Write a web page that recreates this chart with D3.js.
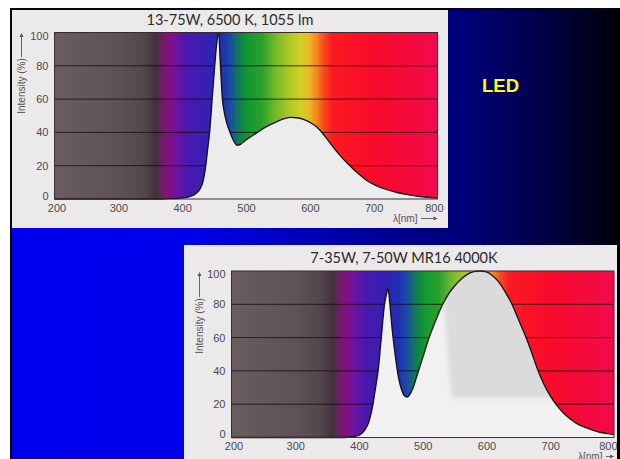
<!DOCTYPE html>
<html><head><meta charset="utf-8">
<script src="https://cdn.jsdelivr.net/npm/d3@7"></script>
<style>html,body{margin:0;padding:0;background:#fff;overflow:hidden}</style>
</head><body><svg id="c" width="620" height="459"></svg>
<script>
// ---------- data ----------
const wavelengthTicks = [200, 300, 400, 500, 600, 700, 800];
const intensityTicks = [0, 20, 40, 60, 80, 100];
const slideLabel = "LED";
const yAxisTitle = "Intensity (%)";
const xAxisTitle = "λ[nm]";

const chart1Title = "13-75W, 6500 K, 1055 lm";
const chart1Wavelength = [200, 360, 380, 395, 405, 415, 422, 428, 433, 437, 440, 443, 447, 451, 454, 457, 460, 463, 466, 470, 475, 480, 486, 492, 500, 510, 520, 530, 540, 550, 560, 570, 580, 590, 600, 610, 620, 630, 640, 650, 660, 670, 680, 690, 700, 720, 740, 760, 780, 800];
const chart1Intensity  = [0, 0, 0.2, 0.4, 0.8, 1.8, 3.5, 6, 11, 20, 30, 40, 60, 80, 93, 100, 80, 60, 52, 45.5, 40, 35.5, 32.3, 33, 35.5, 38, 40.5, 43, 45, 46.8, 48.2, 49, 48.8, 47.8, 46, 43.5, 39.5, 34.5, 29.5, 25, 21, 17.3, 14, 11, 8.8, 5.7, 3.6, 2.2, 1.2, 0.6];

const chart2Title = "7-35W, 7-50W MR16 4000K";
const chart2Wavelength = [200, 370, 385, 395, 403, 410, 416, 422, 426, 430, 435, 440, 443, 445, 447, 449, 452, 455, 458, 461, 465, 469, 473, 476, 480, 485, 490, 495, 500, 510, 520, 530, 540, 550, 560, 570, 580, 590, 600, 610, 620, 630, 640, 650, 660, 670, 680, 690, 700, 710, 720, 730, 740, 750, 760, 770, 780, 790, 800];
const chart2Intensity  = [0, 0, 0.3, 0.8, 2, 5, 10, 20, 30, 40, 60, 80, 86, 89.5, 86, 78, 65, 55, 46, 38, 31, 26.5, 24.5, 24.3, 26, 30, 36, 42, 48, 60, 70, 79, 86, 91, 95, 98, 99.6, 100, 99.5, 97, 93, 87, 80, 71, 62, 52, 41, 32, 25, 19.5, 15, 11.5, 8.8, 6.8, 5.3, 4, 3, 2.3, 1.8];

// ---------- styles ----------
const spectrumStops = [
  [200, "#6a5d61"], [300, "#5f5257"], [340, "#54474c"], [358, "#3f3339"],
  [368, "#6a1f62"], [378, "#86107e"], [392, "#6a14a0"], [410, "#4a18ae"],
  [440, "#3420b4"], [462, "#1e30b2"], [475, "#1c4aa8"], [485, "#127068"],
  [495, "#0e8a3e"], [505, "#139a30"], [525, "#2aa02c"], [545, "#72b82a"],
  [565, "#a8c622"], [585, "#d2cf26"], [598, "#ecba28"], [610, "#f68a1e"],
  [622, "#fa4a1e"], [635, "#fc1a22"], [700, "#f80a2a"], [800, "#f20a4c"]
];
const slideStops = [[0, "#0000f2"], [0.3, "#0000ea"], [0.5, "#0000b4"], [0.66, "#000088"], [0.74, "#00007a"], [0.86, "#00004e"], [1, "#000006"]];

const svg = d3.select("#c");
const defs = svg.append("defs");

svg.append("rect").attr("width", 620).attr("height", 459).attr("fill", "#ffffff");
const sg = defs.append("linearGradient").attr("id", "slideGrad").attr("x1", 0).attr("x2", 1).attr("y1", 0).attr("y2", 0);
slideStops.forEach(s => sg.append("stop").attr("offset", s[0]).attr("stop-color", s[1]));
svg.append("rect").attr("x", 10).attr("y", 8).attr("width", 610).attr("height", 451).attr("fill", "#06060c");
svg.append("rect").attr("x", 12).attr("y", 10).attr("width", 608).attr("height", 449).attr("fill", "url(#slideGrad)");

const blur = defs.append("filter").attr("id", "soft").attr("x", "-10%").attr("y", "-10%").attr("width", "120%").attr("height", "120%");
blur.append("feGaussianBlur").attr("stdDeviation", 2);

svg.append("text").attr("x", 482).attr("y", 92).text(slideLabel)
  .attr("font-family", "Liberation Sans, Arial, sans-serif").attr("font-weight", "bold")
  .attr("font-size", 18.5).attr("fill", "#ffff00");

function drawChart(cfg) {
  const { id, panel, plot, title, titleX, titleY, wl, inten, yTitleX, yTitleY, arrowY, xTitleX, xTitleY, bleed, areaFill, endShift } = cfg;
  const g = svg.append("g");
  g.append("rect").attr("x", panel.x).attr("y", panel.y).attr("width", panel.w).attr("height", panel.h).attr("fill", "#ebe9ea");

  const x = d3.scaleLinear().domain([200, 800]).range([plot.x0, plot.x1]);
  const y = d3.scaleLinear().domain([0, 100]).range([plot.y0, plot.y1]);

  const grad = defs.append("linearGradient").attr("id", "spec" + id)
    .attr("gradientUnits", "userSpaceOnUse")
    .attr("x1", x(200)).attr("x2", x(800)).attr("y1", 0).attr("y2", 0);
  spectrumStops.forEach(s => grad.append("stop").attr("offset", (s[0] - 200) / 600).attr("stop-color", s[1]));

  g.append("rect").attr("x", x(200)).attr("y", y(100)).attr("width", x(800) - x(200)).attr("height", y(0) - y(100))
    .attr("fill", "url(#spec" + id + ")");

  // gridlines
  g.selectAll(".grid").data(intensityTicks.filter(d => d > 0 && d < 100)).enter().append("line")
    .attr("x1", x(200)).attr("x2", x(800)).attr("y1", d => y(d)).attr("y2", d => y(d))
    .attr("stroke", "#1a0a10").attr("stroke-width", 1).attr("stroke-opacity", 0.8);

  const pts = wl.map((w, i) => [w, inten[i]]);
  const area = d3.area().x(d => x(d[0])).y0(y(0)).y1(d => y(d[1])).curve(d3.curveMonotoneX);
  const line = d3.line().x(d => x(d[0])).y(d => y(d[1])).curve(d3.curveMonotoneX);

  g.append("path").attr("d", area(pts)).attr("fill", areaFill);
  if (bleed) {
    defs.append("clipPath").attr("id", "clip" + id).append("path").attr("d", area(pts));
    g.append("g").attr("clip-path", "url(#clip" + id + ")").append("path")
      .attr("filter", "url(#soft)")
      .attr("d", `M${x(528)},${y(104)} L${x(820)},${y(104)} L${x(820)},${y(24)} L${x(545)},${y(24)} Z`)
      .attr("fill", "#dbdbdb");
  }
  g.append("path").attr("d", line(pts)).attr("fill", "none").attr("stroke", "#111").attr("stroke-width", 1.3);

  g.append("rect").attr("x", x(200)).attr("y", y(100)).attr("width", x(800) - x(200)).attr("height", y(0) - y(100))
    .attr("fill", "none").attr("stroke", "#3a2a30").attr("stroke-width", 1);

  // axes
  const yAxis = g.append("g").attr("transform", `translate(${x(200)},0)`)
    .call(d3.axisLeft(y).tickValues(intensityTicks).tickSize(0).tickPadding(6));
  yAxis.select(".domain").remove();
  yAxis.selectAll(".tick text").attr("dy", d => d === 0 ? "0.02em" : d === 100 ? "0.62em" : "0.32em");
  const xAxis = g.append("g").attr("transform", `translate(0,${y(0)})`)
    .call(d3.axisBottom(x).tickValues(wavelengthTicks).tickSize(0).tickPadding(5));
  xAxis.select(".domain").remove();
  xAxis.selectAll(".tick text")
    .attr("text-anchor", d => d === 800 ? "end" : "middle")
    .attr("dx", d => d === 800 ? endShift : d === 200 ? 2 : 0);
  g.selectAll(".tick text").attr("font-family", "Liberation Sans, Arial, sans-serif").attr("font-size", 11).attr("fill", "#4a4a4a");

  // title
  g.append("text").attr("x", titleX).attr("y", titleY).attr("text-anchor", "middle").text(title)
    .attr("font-family", "Lato, 'Open Sans', sans-serif").attr("font-size", 14.5).attr("fill", "#2b2b2b");

  // y title with arrow
  g.append("text").attr("transform", `translate(${yTitleX},${yTitleY}) rotate(-90)`).attr("text-anchor", "middle")
    .text(yAxisTitle).attr("font-family", "Liberation Sans, Arial, sans-serif").attr("font-size", 10).attr("fill", "#555");
  g.append("line").attr("x1", yTitleX - 3.5).attr("x2", yTitleX - 3.5).attr("y1", arrowY[0]).attr("y2", arrowY[1] + 3)
    .attr("stroke", "#555").attr("stroke-width", 0.9);
  g.append("path").attr("d", `M${yTitleX - 3.5},${arrowY[1]} l-2,4 l4,0 Z`).attr("fill", "#555");

  // x title with arrow
  g.append("text").attr("x", xTitleX).attr("y", xTitleY).text(xAxisTitle)
    .attr("font-family", "Liberation Sans, Arial, sans-serif").attr("font-size", 10).attr("fill", "#555");
  g.append("line").attr("x1", xTitleX + 28).attr("x2", x(800) - 4).attr("y1", xTitleY - 3.5).attr("y2", xTitleY - 3.5)
    .attr("stroke", "#555").attr("stroke-width", 0.9);
  g.append("path").attr("d", `M${x(800)},${xTitleY - 3.5} l-4,-2 l0,4 Z`).attr("fill", "#555");
}

drawChart({
  id: 1, panel: { x: 12, y: 10, w: 436, h: 218 },
  plot: { x0: 54.5, x1: 437.5, y0: 199, y1: 32.5 },
  title: chart1Title, titleX: 230, titleY: 25,
  wl: chart1Wavelength, inten: chart1Intensity,
  yTitleX: 25, yTitleY: 86, arrowY: [57, 33],
  xTitleX: 393, xTitleY: 222, bleed: false, areaFill: "#ececec", endShift: 5.5
});
drawChart({
  id: 2, panel: { x: 184, y: 245, w: 433, h: 214 },
  plot: { x0: 231.5, x1: 614, y0: 437.5, y1: 271 },
  title: chart2Title, titleX: 404, titleY: 263,
  wl: chart2Wavelength, inten: chart2Intensity,
  yTitleX: 203, yTitleY: 326, arrowY: [297, 272],
  xTitleX: 578, xTitleY: 460, bleed: true, areaFill: "#f1f1f1", endShift: 3
});
</script>
</body></html>
